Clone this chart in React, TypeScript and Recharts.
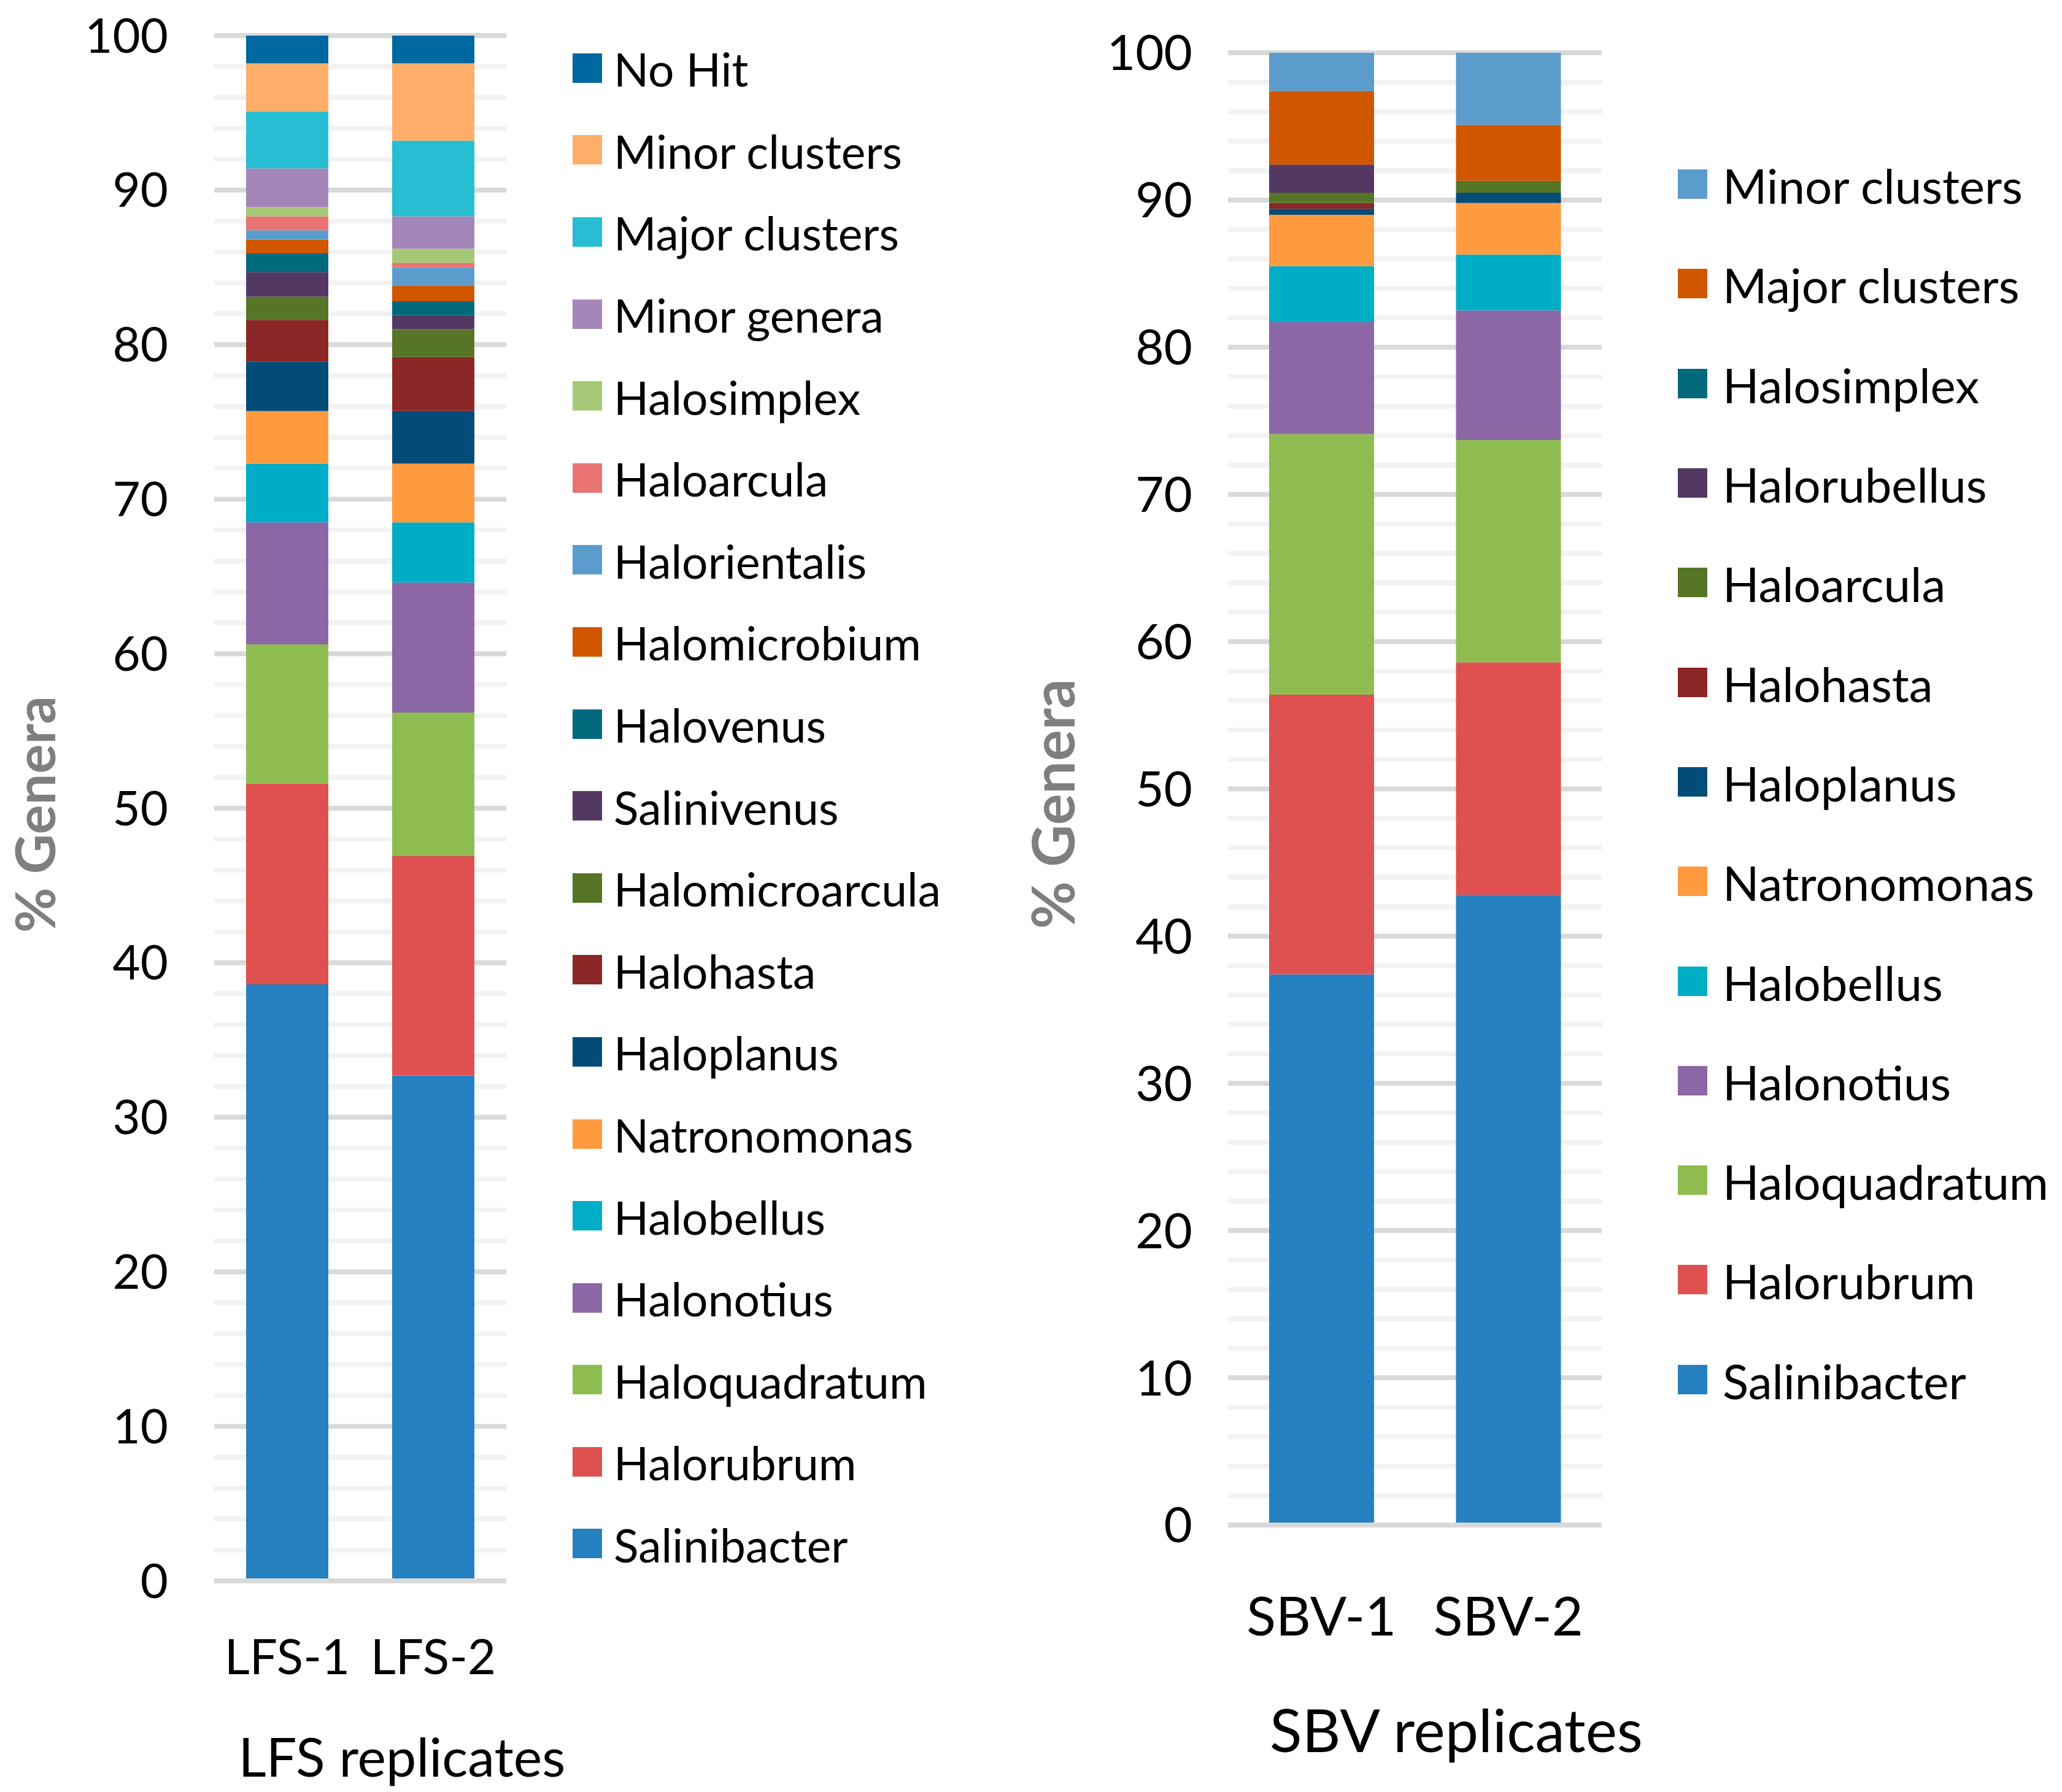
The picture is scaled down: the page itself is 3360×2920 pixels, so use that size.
import React from 'react';
import { BarChart, Bar, XAxis, YAxis, CartesianGrid, Legend } from 'recharts';

const FONT = "Lato, 'Liberation Sans', sans-serif";

// ---------- LFS data (stack order bottom -> top) ----------
const lfsCategories = ['LFS-1', 'LFS-2'];
const lfsGenera = [
  'Salinibacter', 'Halorubrum', 'Haloquadratum', 'Halonotius', 'Halobellus',
  'Natronomonas', 'Haloplanus', 'Halohasta', 'Halomicroarcula', 'Salinivenus',
  'Halovenus', 'Halomicrobium', 'Halorientalis', 'Haloarcula', 'Halosimplex',
  'Minor genera', 'Major clusters', 'Minor clusters', 'No Hit',
];
const lfsColors = [
  '#2681c0', '#df5050', '#8fbc50', '#8b67a6', '#00adc7',
  '#ff9a3f', '#034c78', '#8b2727', '#567526', '#533863',
  '#006a7c', '#d05600', '#5c9ccd', '#e97473', '#a5c976',
  '#a486b8', '#27bdd3', '#ffae69', '#0068a1',
];
const lfs1Values = [38.6, 13.0, 9.0, 7.9, 3.8, 3.4, 3.2, 2.7, 1.5, 1.6, 1.2, 0.9, 0.6, 0.9, 0.6, 2.5, 3.7, 3.1, 1.8];
const lfs2Values = [32.7, 14.2, 9.3, 8.4, 3.9, 3.8, 3.4, 3.5, 1.8, 0.9, 0.9, 1.0, 1.2, 0.3, 0.9, 2.1, 4.9, 5.0, 1.8];

// ---------- SBV data (stack order bottom -> top) ----------
const sbvCategories = ['SBV-1', 'SBV-2'];
const sbvGenera = [
  'Salinibacter', 'Halorubrum', 'Haloquadratum', 'Halonotius', 'Halobellus',
  'Natronomonas', 'Haloplanus', 'Halohasta', 'Haloarcula', 'Halorubellus',
  'Halosimplex', 'Major clusters', 'Minor clusters',
];
const sbvColors = [
  '#2681c0', '#df5050', '#8fbc50', '#8b67a6', '#00adc7',
  '#ff9a3f', '#034c78', '#8b2727', '#567526', '#533863',
  '#006a7c', '#d05600', '#5c9ccd',
];
const sbv1Values = [37.4, 19.0, 17.7, 7.6, 3.8, 3.5, 0.4, 0.4, 0.7, 1.9, 0, 5.0, 2.6];
const sbv2Values = [42.8, 15.8, 15.1, 8.8, 3.8, 3.5, 0.7, 0, 0.8, 0, 0, 3.8, 4.9];

// ---------- axis ticks / gridlines ----------
const yTicks = [0, 10, 20, 30, 40, 50, 60, 70, 80, 90, 100];
const minorGridValues = [2, 4, 6, 8, 12, 14, 16, 18, 22, 24, 26, 28, 32, 34, 36, 38, 42, 44, 46, 48,
  52, 54, 56, 58, 62, 64, 66, 68, 72, 74, 76, 78, 82, 84, 86, 88, 92, 94, 96, 98];

function buildRows(categories: string[], genera: string[], valueLists: number[][]) {
  return categories.map((name, ci) => {
    const row: Record<string, any> = { name };
    genera.forEach((g, gi) => { row[g] = valueLists[ci][gi]; });
    return row;
  });
}

const lfsRows = buildRows(lfsCategories, lfsGenera, [lfs1Values, lfs2Values]);
const sbvRows = buildRows(sbvCategories, sbvGenera, [sbv1Values, sbv2Values]);

function makeLegend(genera: string[], colors: string[], itemH: number, sq: number, gap: number, fontSize: number) {
  return function LegendContent(props: any) {
    const payload: any[] = props.payload || [];
    const items = [...genera].reverse().map((g) => {
      const p = payload.find((x) => x.value === g || x.dataKey === g);
      return { name: g, color: p && p.color ? p.color : colors[genera.indexOf(g)] };
    });
    return (
      <div style={{ fontFamily: FONT }}>
        {items.map((it) => (
          <div key={it.name} style={{ height: itemH, display: 'flex', alignItems: 'center' }}>
            <span style={{ display: 'inline-block', width: sq, height: sq, background: it.color, marginRight: gap, flex: 'none' }} />
            <span style={{ fontSize, color: '#000', lineHeight: 1, whiteSpace: 'nowrap', position: 'relative', top: 2 }}>{it.name}</span>
          </div>
        ))}
      </div>
    );
  };
}

const LfsLegend = makeLegend(lfsGenera, lfsColors, 133.6, 48, 19, 75);
const SbvLegend = makeLegend(sbvGenera, sbvColors, 162.3, 48, 25, 78);

function StackedChart(props: {
  rows: any[]; genera: string[]; colors: string[];
  width: number; height: number;
  plotLeft: number; plotRight: number; plotTop: number; plotBottom: number;
  barSize: number; yTickFont: number; yTickGap: number; xTickFont: number; xTickGap: number;
  titleText: string; titleFont: number; titleX: number; titleY: number;
  yLabelFont: number; yLabelX: number; yLabelY: number;
  legend: any; legendLeft: number; legendTop: number;
}) {
  const p = props;
  const xAxisH = 200;
  const margin = { top: p.plotTop, right: p.width - p.plotRight, bottom: p.height - p.plotBottom - xAxisH, left: 0 };
  return (
    <BarChart width={p.width} height={p.height} data={p.rows} margin={margin} barSize={p.barSize}>
      <CartesianGrid vertical={false} horizontalValues={minorGridValues} stroke="#f2f2f2" strokeWidth={8} />
      <CartesianGrid vertical={false} horizontalValues={yTicks} stroke="#d9d9d9" strokeWidth={8} />
      <XAxis
        dataKey="name"
        height={xAxisH}
        interval={0}
        tickLine={false}
        tickSize={0}
        tickMargin={p.xTickGap}
        axisLine={{ stroke: '#d9d9d9', strokeWidth: 8 }}
        tick={{ fill: '#000', fontSize: p.xTickFont, fontFamily: FONT }}
        label={{
          content: () => (
            <text x={p.titleX} y={p.titleY} textAnchor="middle" fill="#000" fontSize={p.titleFont} fontFamily={FONT}>
              {p.titleText}
            </text>
          ),
        }}
      />
      <YAxis
        width={p.plotLeft}
        domain={[0, 100]}
        ticks={yTicks}
        interval={0}
        axisLine={false}
        tickLine={false}
        tickSize={0}
        tickMargin={p.yTickGap}
        tick={{ fill: '#000', fontSize: p.yTickFont, fontFamily: FONT }}
        label={{
          content: () => (
            <text
              x={p.yLabelX}
              y={p.yLabelY}
              transform={`rotate(-90, ${p.yLabelX}, ${p.yLabelY})`}
              textAnchor="middle"
              fill="#7f7f7f"
              fontWeight="bold"
              fontSize={p.yLabelFont}
              fontFamily={FONT}
            >
              % Genera
            </text>
          ),
        }}
      />
      <Legend
        layout="vertical"
        align="center"
        verticalAlign="middle"
        content={p.legend}
        wrapperStyle={{ left: p.legendLeft, top: p.legendTop, width: p.width - p.legendLeft, height: 'auto' }}
      />
      {p.genera.map((g, i) => (
        <Bar key={g} dataKey={g} name={g} stackId="a" fill={p.colors[i]} isAnimationActive={false} />
      ))}
    </BarChart>
  );
}

export default function App() {
  return (
    <div style={{ position: 'absolute', left: 0, top: 0, width: 3360, height: 2920, background: '#fff', overflow: 'hidden' }}>
      <div style={{ position: 'absolute', left: 0, top: 0 }}>
        <StackedChart
          rows={lfsRows} genera={lfsGenera} colors={lfsColors}
          width={1600} height={2920}
          plotLeft={349} plotRight={825} plotTop={58} plotBottom={2576}
          barSize={134}
          yTickFont={78} yTickGap={75}
          xTickFont={80} xTickGap={95}
          titleText="LFS replicates" titleFont={88} titleX={655} titleY={2895}
          yLabelFont={90} yLabelX={90} yLabelY={1327}
          legend={LfsLegend} legendLeft={933} legendTop={44}
        />
      </div>
      <div style={{ position: 'absolute', left: 1600, top: 0 }}>
        <StackedChart
          rows={sbvRows} genera={sbvGenera} colors={sbvColors}
          width={1760} height={2920}
          plotLeft={401} plotRight={1010} plotTop={86} plotBottom={2485}
          barSize={171}
          yTickFont={80} yTickGap={58}
          xTickFont={88} xTickGap={118}
          titleText="SBV replicates" titleFont={97} titleX={773} titleY={2855}
          yLabelFont={95} yLabelX={151} yLabelY={1310}
          legend={SbvLegend} legendLeft={1134} legendTop={219}
        />
      </div>
    </div>
  );
}
